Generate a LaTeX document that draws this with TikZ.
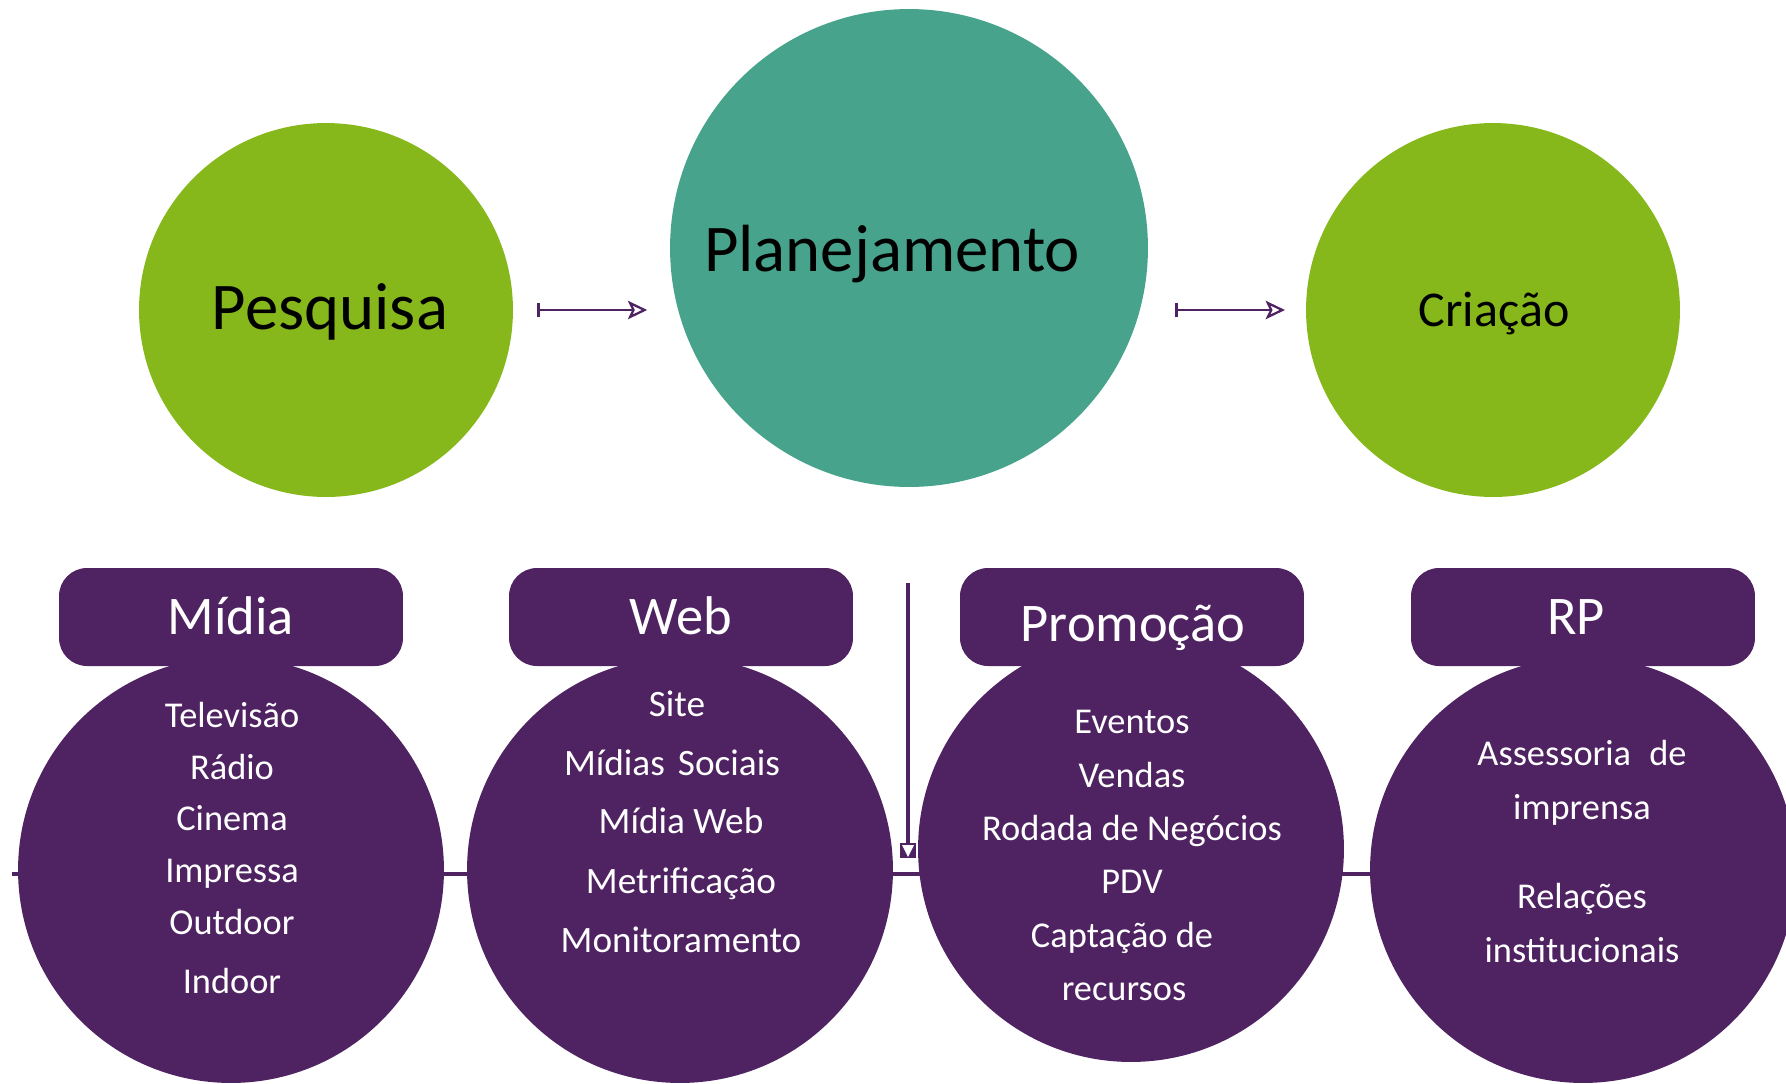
\documentclass[tikz,border=0pt]{standalone}
\usepackage{fontspec}
\setmainfont{Carlito}
\usepackage{tikz}
\usetikzlibrary{arrows.meta,calc}
\definecolor{verde}{HTML}{86B81B}
\definecolor{turquesa}{HTML}{47A38B}
\definecolor{roxo}{HTML}{4F2362}
\tikzset{
  bola/.style={circle, draw=none, inner sep=0pt, outer sep=0pt},
  caixa/.style={rectangle, rounded corners=0.56cm, fill=roxo, inner sep=0pt,
    minimum width=6.88cm, minimum height=1.96cm},
  grande/.style={anchor=base, text=black, font=\fontsize{38}{45}\selectfont},
  titulo/.style={anchor=base, text=white, font=\fontsize{31}{37}\selectfont},
  item/.style={anchor=base, text=white, font=\fontsize{20.7}{25}\selectfont},
  seta/.style={roxo, line width=1.6pt,
    {Bar[width=8.5pt,line width=1.6pt]}-{Stealth[open,length=11pt,width=10.5pt,inset=2.5pt,line width=1.3pt]}},
}
\begin{document}
\begin{tikzpicture}[x=0.02cm, y=-0.02cm]
    \useasboundingbox (0,0) rectangle (1786,1083);
    %%Linha de fundo
    \coordinate (linhaA) at (12,874);
    \coordinate (linhaB) at (1786,874);
    \draw[roxo, line width=1.8pt] (linhaA) -- (linhaB);
    %%Etapas
    \node[bola, fill=verde, minimum size=7.48cm] (pesq) at (326,310) {};
    \node[bola, fill=turquesa, minimum size=9.56cm] (plan) at (909,248) {};
    \node[bola, fill=verde, minimum size=7.48cm] (cria) at (1493,310) {};
    \node[grande] (pesqT) at (330,329) {Pesquisa};
    \node[grande] (planT) at (892,271) {Planejamento};
    \node[grande, font=\fontsize{28.5}{34}\selectfont] (criaT) at (1494,326) {Criação};
    \draw[seta, shorten <=13.7pt, shorten >=13pt] (pesq.east) -- (pesq.east -| plan.west);
    \draw[seta, shorten <=15.4pt, shorten >=12pt] (plan.east |- cria.west) -- (cria.west);
    %%Areas
    \node[bola, fill=roxo, minimum size=8.52cm] (midia) at (231,870) {};
    \node[bola, fill=roxo, minimum size=8.52cm] (web) at (680,870) {};
    \node[bola, fill=roxo, minimum size=8.52cm] (promo) at (1131,849) {};
    \node[bola, fill=roxo, minimum size=8.52cm] (rp) at (1583,870) {};
    \node[caixa] (midiaC) at (231,617) {};
    \node[caixa] (webC) at (681,617) {};
    \node[caixa] (promoC) at (1132,617) {};
    \node[caixa] (rpC) at (1583,617) {};
    \node[titulo] (midiaT) at (231,634) {Mídia};
    \node[titulo] (webT) at (681,634) {Web};
    \node[titulo] (promoT) at (1133,641) {Promoção};
    \node[titulo] (rpT) at (1576,634) {RP};
    %%Itens
    \foreach \x/\y/\t [count=\i] in {232/727/Televisão, 232/779/Rádio, 232/830/Cinema,
        232/882/Impressa, 232/934/Outdoor, 232/993/Indoor}
        \node[item] (midia-\i) at (\x,\y) {\t};
    \foreach \x/\y/\t [count=\i] in {677/716/Site, 672/775/Mídias\hspace{0.35em}Sociais, 681/833/Mídia Web,
        681/893/Metrificação, 681/952/Monitoramento}
        \node[item, font=\fontsize{21.2}{25}\selectfont] (web-\i) at (\x,\y) {\t};
    \foreach \x/\y/\t [count=\i] in {1132/733/Eventos, 1132/787/Vendas,
        1132/840/Rodada de Negócios, 1132/893/PDV, 1122/947/Captação de, 1124/1000/recursos}
        \node[item] (promo-\i) at (\x,\y) {\t};
    \foreach \x/\y/\t [count=\i] in {1582/765/Assessoria\hspace{0.5em}de, 1582/819/imprensa,
        1582/908/Relações, 1582/962/institucionais}
        \node[item] (rp-\i) at (\x,\y) {\t};
    %%Seta vertical
    \coordinate (vA) at (908,583);
    \coordinate (vB) at (908,858);
    \draw[roxo, line width=1.8pt] (vA) -- ($(vB)+(0,-15)$);
    \fill[roxo] ($(vB)+(-8,-15)$) rectangle ($(vB)+(8,0)$);
    \fill[white] ($(vB)+(-6,-13)$) -- ($(vB)+(6,-13)$) -- ($(vB)+(0,-1)$) -- cycle;
\end{tikzpicture}
\end{document}
